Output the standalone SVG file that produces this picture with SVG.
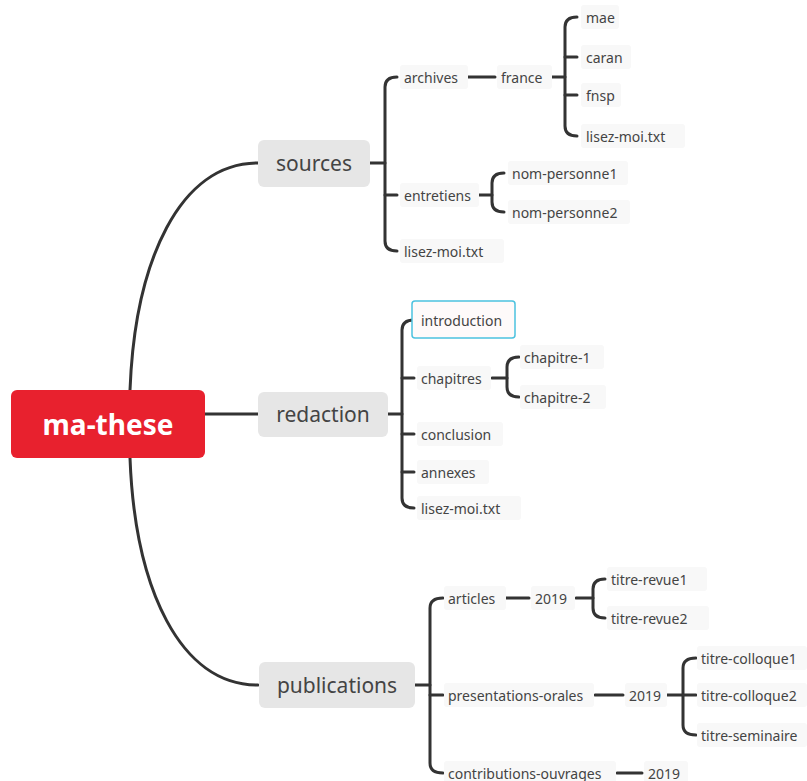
<svg xmlns="http://www.w3.org/2000/svg" width="807" height="781" viewBox="0 0 807 781">
<style>
.c{fill:none;stroke:#333;stroke-width:3;stroke-linecap:round;stroke-linejoin:round}
.m{fill:none;stroke:#333;stroke-width:3;stroke-linecap:round}
.t{font-family:"Noto Sans","Open Sans",sans-serif;font-size:14px;fill:#444;dominant-baseline:central}
.lb{fill:#f8f8f8}
.mb{fill:#e6e6e6}
.mt{font-family:"Noto Sans","Open Sans",sans-serif;font-size:21px;fill:#444;text-anchor:middle;dominant-baseline:central}
</style>
<rect width="807" height="781" fill="#fff"/>
<g id="connectors">
<path class="m" d="M130,390 C135,260 180,163 258,163"/>
<path class="m" d="M130,458 C135,589 180,685 258,685"/>
<path class="m" d="M205,414 H258"/>
<!-- sources -->
<path class="c" d="M370,163 H385"/>
<path class="c" d="M397,77 Q385,77 385,87 V241 Q385,251 397,251"/>
<path class="c" d="M385,195 H397"/>
<path class="c" d="M468,77 H495"/>
<path class="c" d="M552,77 H565"/>
<path class="c" d="M577,17 Q565,17 565,27 V126 Q565,136 577,136"/>
<path class="c" d="M565,57 H577 M565,95 H577"/>
<path class="c" d="M479,195 H492"/>
<path class="c" d="M504,173 Q492,173 492,183 V202 Q492,212 504,212"/>
<!-- redaction -->
<path class="c" d="M388,414 H402"/>
<path class="c" d="M414,320 Q402,320 402,330 V498 Q402,508 414,508"/>
<path class="c" d="M402,378 H414 M402,434 H414 M402,472 H414"/>
<path class="c" d="M492,378 H507"/>
<path class="c" d="M519,357 Q507,357 507,367 V387 Q507,397 519,397"/>
<!-- publications -->
<path class="c" d="M415,685 H430"/>
<path class="c" d="M443,598 Q430,598 430,608 V763 Q430,773 443,773"/>
<path class="c" d="M430,695 H443"/>
<path class="c" d="M506,598 H529"/>
<path class="c" d="M576,598 H593"/>
<path class="c" d="M605,579 Q593,579 593,589 V608 Q593,618 605,618"/>
<path class="c" d="M595,695 H623"/>
<path class="c" d="M667,695 H683"/>
<path class="c" d="M696,658 Q683,658 683,668 V725 Q683,735 696,735"/>
<path class="c" d="M683,695 H696"/>
<path class="c" d="M617,773 H642"/>
</g>
<g id="root">
<rect x="11" y="390" width="194" height="68" rx="6" fill="#e8212e"/>
<text x="108" y="424" font-family="'Noto Sans','Open Sans',sans-serif" font-size="28" font-weight="bold" fill="#fff" text-anchor="middle" dominant-baseline="central">ma-these</text>
</g>
<g id="sources"><rect class="mb" x="258" y="140" width="112" height="47" rx="6"/><text class="mt" x="314" y="163">sources</text></g>
<g id="redaction"><rect class="mb" x="258" y="392" width="130" height="45" rx="6"/><text class="mt" x="323" y="414">redaction</text></g>
<g id="publications"><rect class="mb" x="259" y="662" width="156" height="46" rx="6"/><text class="mt" x="337" y="685">publications</text></g>

<g id="archives"><rect class="lb" x="400" y="65" width="68" height="24" rx="3"/><text class="t" x="404" y="77">archives</text></g>
<g id="france"><rect class="lb" x="497" y="65" width="55" height="24" rx="3"/><text class="t" x="501" y="77">france</text></g>
<g id="mae"><rect class="lb" x="581" y="5" width="38" height="24" rx="3"/><text class="t" x="586" y="17">mae</text></g>
<g id="caran"><rect class="lb" x="581" y="45" width="50" height="24" rx="3"/><text class="t" x="586" y="57">caran</text></g>
<g id="fnsp"><rect class="lb" x="581" y="83" width="40" height="24" rx="3"/><text class="t" x="586" y="95">fnsp</text></g>
<g id="lisez-moi-france"><rect class="lb" x="581" y="124" width="104" height="24" rx="3"/><text class="t" x="586" y="136">lisez-moi.txt</text></g>
<g id="entretiens"><rect class="lb" x="400" y="183" width="79" height="24" rx="3"/><text class="t" x="404" y="195">entretiens</text></g>
<g id="nom-personne1"><rect class="lb" x="508" y="161" width="120" height="24" rx="3"/><text class="t" x="512" y="173">nom-personne1</text></g>
<g id="nom-personne2"><rect class="lb" x="508" y="200" width="122" height="24" rx="3"/><text class="t" x="512" y="212">nom-personne2</text></g>
<g id="lisez-moi-sources"><rect class="lb" x="400" y="239" width="104" height="24" rx="3"/><text class="t" x="404" y="251">lisez-moi.txt</text></g>

<g id="introduction"><rect x="412" y="301" width="103" height="37" rx="3" fill="#fefafa" stroke="#4cc2df" stroke-width="1.5"/><text class="t" x="421" y="320">introduction</text></g>
<g id="chapitres"><rect class="lb" x="417" y="366" width="74" height="24" rx="3"/><text class="t" x="421" y="378">chapitres</text></g>
<g id="chapitre-1"><rect class="lb" x="520" y="345" width="84" height="24" rx="3"/><text class="t" x="524" y="357">chapitre-1</text></g>
<g id="chapitre-2"><rect class="lb" x="520" y="385" width="86" height="24" rx="3"/><text class="t" x="524" y="397">chapitre-2</text></g>
<g id="conclusion"><rect class="lb" x="417" y="422" width="86" height="24" rx="3"/><text class="t" x="421" y="434">conclusion</text></g>
<g id="annexes"><rect class="lb" x="417" y="460" width="72" height="24" rx="3"/><text class="t" x="421" y="472">annexes</text></g>
<g id="lisez-moi-redaction"><rect class="lb" x="417" y="496" width="104" height="24" rx="3"/><text class="t" x="421" y="508">lisez-moi.txt</text></g>

<g id="articles"><rect class="lb" x="444" y="586" width="62" height="24" rx="3"/><text class="t" x="448" y="598">articles</text></g>
<g id="articles-2019"><rect class="lb" x="531" y="586" width="44" height="24" rx="3"/><text class="t" x="535" y="598">2019</text></g>
<g id="titre-revue1"><rect class="lb" x="607" y="567" width="100" height="24" rx="3"/><text class="t" x="611" y="579">titre-revue1</text></g>
<g id="titre-revue2"><rect class="lb" x="607" y="606" width="102" height="24" rx="3"/><text class="t" x="611" y="618">titre-revue2</text></g>
<g id="presentations-orales"><rect class="lb" x="444" y="683" width="150" height="24" rx="3"/><text class="t" x="448" y="695">presentations-orales</text></g>
<g id="presentations-2019"><rect class="lb" x="625" y="683" width="42" height="24" rx="3"/><text class="t" x="629" y="695">2019</text></g>
<g id="titre-colloque1"><rect class="lb" x="697" y="646" width="110" height="24" rx="3"/><text class="t" x="701" y="658">titre-colloque1</text></g>
<g id="titre-colloque2"><rect class="lb" x="697" y="683" width="110" height="24" rx="3"/><text class="t" x="701" y="695">titre-colloque2</text></g>
<g id="titre-seminaire"><rect class="lb" x="697" y="723" width="110" height="24" rx="3"/><text class="t" x="701" y="735">titre-seminaire</text></g>
<g id="contributions-ouvrages"><rect class="lb" x="444" y="761" width="172" height="24" rx="3"/><text class="t" x="448" y="773">contributions-ouvrages</text></g>
<g id="contributions-2019"><rect class="lb" x="644" y="761" width="44" height="24" rx="3"/><text class="t" x="648" y="773">2019</text></g>
</svg>
